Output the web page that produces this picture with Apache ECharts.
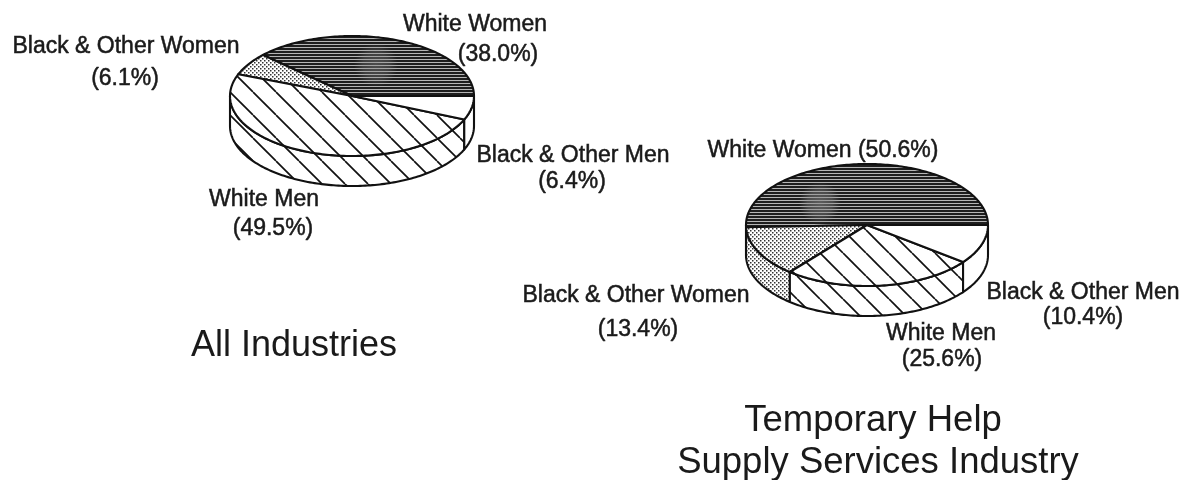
<!DOCTYPE html>
<html><head><meta charset="utf-8">
<style>html,body{margin:0;padding:0;background:#fff}#c{width:1185px;height:480px}</style>
<script src="https://cdn.jsdelivr.net/npm/echarts@6/dist/echarts.min.js"></script>
</head><body><div id="c"></div>
<script>
const sliceNames = ['White Women','Black & Other Women','White Men','Black & Other Men'];
const allIndustries = [38.0, 6.1, 49.5, 6.4];
const tempHelp = [50.6, 13.4, 25.6, 10.4];
const labels = [
  ['White Women', 475, 25], ['(38.0%)', 498, 55],
  ['Black & Other Women', 126, 47], ['(6.1%)', 125, 79],
  ['Black & Other Men', 573, 156], ['(6.4%)', 572, 182],
  ['White Men', 264, 200], ['(49.5%)', 273, 229],
  ['White Women (50.6%)', 823, 151],
  ['Black & Other Women', 636, 296], ['(13.4%)', 638, 330],
  ['Black & Other Men', 1083, 293], ['(10.4%)', 1083, 318],
  ['White Men', 941, 334], ['(25.6%)', 942, 360]
];
const titles = [
  ['All Industries', 294, 346, 36], ['Temporary Help', 873, 421, 36.5], ['Supply Services Industry', 878, 463, 36.5]
];

function pattern(w, h, draw) {
  const cv = document.createElement('canvas'); cv.width = w; cv.height = h;
  const g = cv.getContext('2d'); g.fillStyle = '#fff'; g.fillRect(0, 0, w, h); draw(g);
  return { image: cv, repeat: 'repeat' };
}
const pLines = pattern(4, 3, g => { g.fillStyle = '#1e1e1e'; g.fillRect(0, 0, 4, 2); g.fillStyle = '#b5b5b5'; g.fillRect(0, 2, 4, 1); });
const pDots = pattern(4, 4, g => { g.fillStyle = '#333'; g.fillRect(0, 0, 1.5, 1.5); g.fillRect(2, 2, 1.5, 1.5); });
const pDiag = phase => pattern(23, 23, g => {
  g.strokeStyle = '#111'; g.lineWidth = 1.7;
  for (const o of [-46, -23, 0, 23]) { g.beginPath(); g.moveTo(o + phase, 0); g.lineTo(o + phase + 23, 23); g.stroke(); }
});

function pieSeries(values, cx, cy, rx, ry, depth, hatchPhase) {
  const fills = [pLines, pDots, pDiag(hatchPhase), '#fff'];
  let acc = 0;
  const data = values.map((v, i) => { const d = [acc, acc + v, i]; acc += v; return d; });
  const ang = p => p / 100 * 2 * Math.PI;
  const pt = (t, dy) => [cx + rx * Math.cos(t), cy - ry * Math.sin(t) + dy];
  const arc = (a, b, dy) => {
    const n = Math.max(2, Math.ceil(Math.abs(b - a) / 0.02)), out = [];
    for (let k = 0; k <= n; k++) out.push(pt(a + (b - a) * k / n, dy));
    return out;
  };
  const line = { stroke: '#111', lineWidth: 2.1, lineJoin: 'round' };
  return {
    type: 'custom', coordinateSystem: 'none', silent: true, animation: false, clip: false,
    data,
    renderItem(params, api) {
      const a = ang(api.value(0)), b = ang(api.value(1)), i = api.value(2);
      const children = [];
      const wa = Math.max(a, Math.PI), wb = Math.min(b, 2 * Math.PI);
      if (wb > wa) {
        children.push({ type: 'polygon', shape: { points: arc(wa, wb, 0).concat(arc(wb, wa, depth)) },
          style: Object.assign({ fill: fills[i] }, line) });
      }
      children.push({ type: 'polygon', shape: { points: [[cx, cy]].concat(arc(a, b, 0)) },
        z2: 10, style: Object.assign({ fill: fills[i] }, line) });
      return { type: 'group', children };
    }
  };
}

const chart = echarts.init(document.getElementById('c'), null, { renderer: 'canvas' });
const txt = (t, size, bold) => ({
  type: 'text', x: t[1], y: t[2], z: 50,
  style: { text: t[0], fill: '#1a1a1a', align: 'center', verticalAlign: 'middle',
    font: size + 'px "Liberation Sans", Arial, sans-serif',
    stroke: '#1a1a1a', lineWidth: bold ? 0.5 : 0 }
});
const smudge = (cx, cy, rx, ry, alpha) => ({
  type: 'ellipse', z: 40, silent: true, shape: { cx, cy, rx, ry },
  style: { fill: { type: 'radial', x: 0.5, y: 0.5, r: 0.5, colorStops: [
    { offset: 0, color: 'rgba(135,135,135,' + alpha + ')' },
    { offset: 0.6, color: 'rgba(135,135,135,' + alpha * 0.7 + ')' },
    { offset: 1, color: 'rgba(135,135,135,0)' }] } }
});
chart.setOption({
  backgroundColor: '#fff', animation: false,
  series: [
    pieSeries(allIndustries, 352, 96, 122, 60, 30, 0),
    pieSeries(tempHelp, 867, 225, 121, 61, 30, 15)
  ],
  graphic: { elements: [
    smudge(376, 65, 46, 22, 0.45), smudge(820, 203, 56, 21, 0.6)
  ].concat(labels.map(t => txt(t, 23, true))).concat(titles.map(t => txt(t, t[3], false))) }
});
</script></body></html>
